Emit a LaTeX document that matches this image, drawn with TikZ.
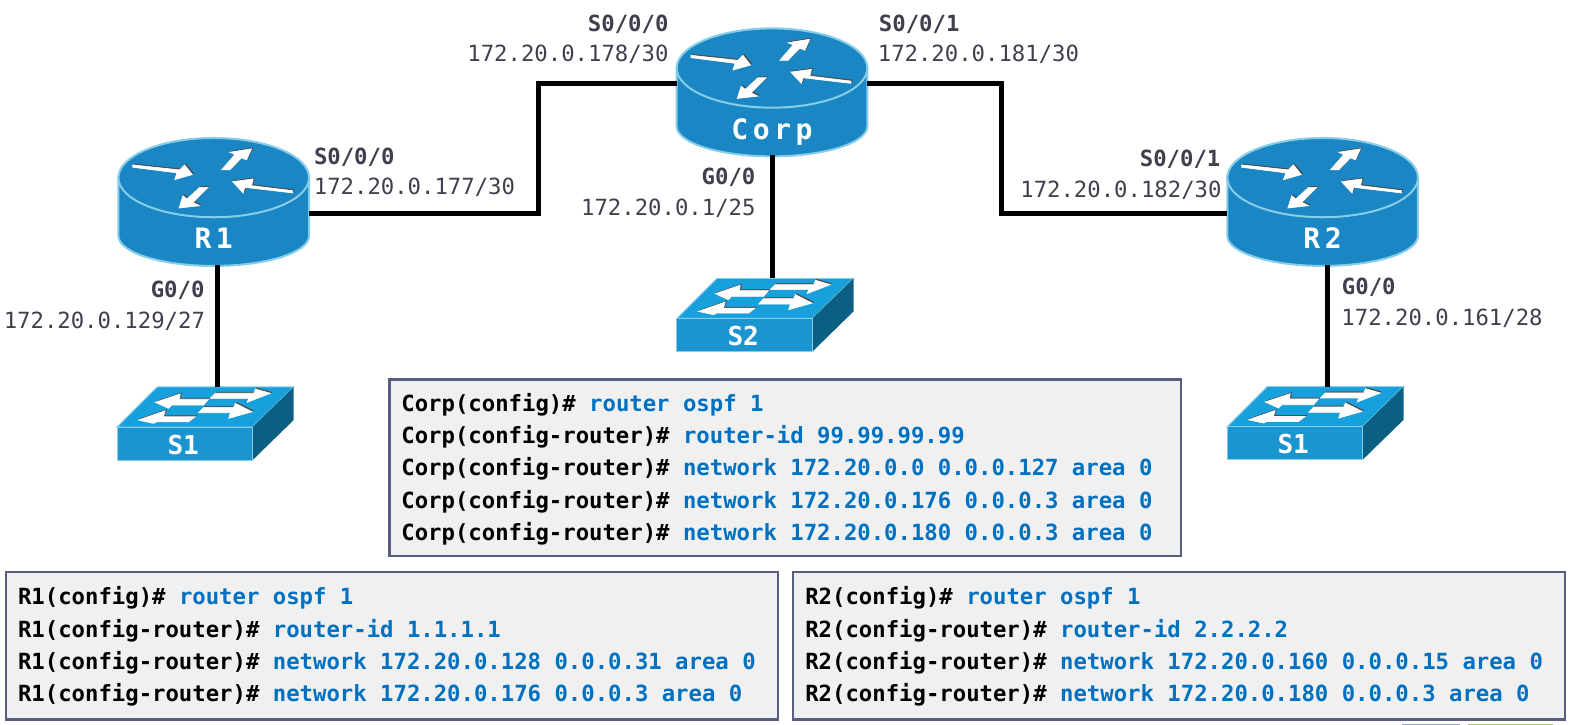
\documentclass[tikz,border=0pt]{standalone}
\usepackage{fontspec}
\setmonofont{DejaVu Sans Mono}
\newfontfamily\devfont[LetterSpace=16]{DejaVu Sans Mono}
\definecolor{routerblue}{HTML}{1A87C4}
\definecolor{routeredge}{HTML}{86CDE8}
\definecolor{switchtop}{HTML}{18A0DC}
\definecolor{switchfront}{HTML}{1B95D0}
\definecolor{switchside}{HTML}{0B5F82}
\definecolor{cmdblue}{HTML}{0070C0}
\definecolor{labelgray}{HTML}{3F3F4E}
\definecolor{boxedge}{HTML}{5A5F80}
\definecolor{boxfill}{HTML}{F0F0F1}
\definecolor{sliverblue}{HTML}{8FA3B5}
\definecolor{slivergreen}{HTML}{AEBF6A}
\newcommand{\cmd}[1]{\textcolor{cmdblue}{#1}}

\tikzset{
    link/.style={line width=2.5pt},
    whitearrow/.style={fill=white,draw=white,line width=0.3pt,preaction={fill=black!70,draw=black!70,line width=0.3pt,transform canvas={shift={(0.6pt,0.5pt)}}}},
    portbold/.style={font=\ttfamily\bfseries\fontsize{11.1}{13}\selectfont,text=labelgray,inner sep=0pt},
    portaddr/.style={font=\ttfamily\fontsize{11.1}{13}\selectfont,text=labelgray,inner sep=0pt},
    cfgbox/.style={draw=boxedge,fill=boxfill,line width=1.2pt,text width=#1,inner xsep=6pt,inner ysep=0pt,
        align=flush left,font=\ttfamily\bfseries\fontsize{11.1}{16}\selectfont},
    router/.pic={
        \fill[routerblue,draw=routeredge,line width=1pt] (-95,0) -- (-95,58)
            arc[start angle=180,end angle=0,x radius=95,y radius=30] -- (95,0) -- cycle;
        \fill[routerblue,draw=routeredge,line width=1pt] (0,0) ellipse [x radius=95,y radius=39.5];
        \filldraw[whitearrow] (-80.7,-12.7) -- (-34,-7.7) -- (-29,-12.7) -- (-21.3,-3) -- (-39,2) -- (-36.7,-4.7) -- (-80.7,-10.3) -- cycle;
        \filldraw[whitearrow] (7.7,-7.7) -- (16,-7.7) -- (27.7,-19.7) -- (32.7,-17.7) -- (37.7,-28.7) -- (16,-25.3) -- (21,-23) -- cycle;
        \filldraw[whitearrow] (78.7,13) -- (37.7,8) -- (39.3,1.3) -- (18.7,4) -- (29.3,15.3) -- (31,9.7) -- (78.7,15.3) -- cycle;
        \filldraw[whitearrow] (-5.7,9.7) -- (-14,9.7) -- (-26.7,21.3) -- (-30.7,18) -- (-34.7,30.3) -- (-14,28) -- (-20.7,24.7) -- cycle;
        \node[anchor=base,text=white,inner sep=0pt,font=\devfont\bfseries\fontsize{14}{16}\selectfont] (-name) at (0,71) {#1};
        \coordinate (-wh) at (-95,15);
        \coordinate (-eh) at (95,15);
        \coordinate (-wl) at (-95,35.5);
        \coordinate (-el) at (95,35.5);
        \coordinate (-s) at (0,87);
    },
    switch/.pic={
        \fill[switchtop,draw=routeredge,line width=0.5pt] (0,40) -- (40,0) -- (176,0) -- (135,40) -- cycle;
        \fill[switchside] (135,40) -- (176,0) -- (176,33) -- (135,73) -- cycle;
        \fill[switchfront,draw=routeredge,line width=0.5pt] (0,40) rectangle (135,73);
        \filldraw[whitearrow] (91.3,12.3) -- (62.3,12.3) -- (63,7) -- (38,15.3) -- (51.3,21.3) -- (54.7,18) -- (86.3,18) -- cycle;
        \filldraw[whitearrow] (98,6.3) -- (136.3,6.3) -- (138,2) -- (153,6.3) -- (129.7,15.3) -- (131.3,11.3) -- (93,11.3) -- cycle;
        \filldraw[whitearrow] (78,29.7) -- (46.3,29.7) -- (48,23.7) -- (21.3,33) -- (36.3,36.3) -- (39.7,34.7) -- (71.3,34.7) -- cycle;
        \filldraw[whitearrow] (86.3,20.3) -- (116.3,20.3) -- (118,16.3) -- (134.7,24.7) -- (111.3,31.3) -- (113,25.7) -- (81.3,25.7) -- cycle;
        \node[anchor=base,text=white,inner sep=0pt,font=\ttfamily\bfseries\fontsize{13}{15}\selectfont] (-name) at (66,67) {#1};
        \coordinate (-n) at (100,0);
    }
}

\begin{document}
\begin{tikzpicture}[x=0.5pt,y=-0.5pt]
\useasboundingbox (0,0) rectangle (1567.5,722.4);

% Routers and switches
\pic (R1) at (213,177) {router=R1};
\pic (Corp) at (769.3,67.8) {router=Corp};
\pic (R2) at (1318,177) {router=R2};
\pic (S1a) at (116.6,385.6) {switch=S1};
\pic (S2) at (674.6,277.3) {switch=S2};
\pic (S1b) at (1222.7,385.3) {switch=S1};

% Serial links
\draw[link] (R1-el) -- ++(229,0) |- (Corp-wh);
\draw[link] (Corp-eh) -- ++(134,0) |- (R2-wl);

% Switch links
\draw[link] (S1a-n) -- (S1a-n |- R1-s);
\draw[link] (Corp-s) -- (Corp-s |- S2-n);
\draw[link] (S1b-n) -- (S1b-n |- R2-s);

% Corp ports
\node[portbold] (corpS0) at (626,24) {S0/0/0};
\node[portaddr] (corpS0ip) at (566,54) {172.20.0.178/30};
\node[portbold] (corpS1) at (916,24) {S0/0/1};
\node[portaddr] (corpS1ip) at (975,54) {172.20.0.181/30};
\node[portbold] (corpG0) at (726,177) {G0/0};
\node[portaddr] (corpG0ip) at (666,208) {172.20.0.1/25};

% R1 ports
\node[portbold] (r1S0) at (353,157) {S0/0/0};
\node[portaddr] (r1S0ip) at (413,187) {172.20.0.177/30};
\node[portbold] (r1G0) at (177,289) {G0/0};
\node[portaddr] (r1G0ip) at (104,320) {172.20.0.129/27};

% R2 ports
\node[portbold] (r2S1) at (1176,159) {S0/0/1};
\node[portaddr] (r2S1ip) at (1117,190) {172.20.0.182/30};
\node[portbold] (r2G0) at (1364,286) {G0/0};
\node[portaddr] (r2G0ip) at (1437,317) {172.20.0.161/28};

% Config boxes
\node[cfgbox=382.5pt,minimum height=88pt] (corpcfg) at (782.5,466) {%
\rule{0pt}{10.6pt}Corp(config)\# \cmd{router ospf 1}\\
Corp(config-router)\# \cmd{router-id 99.99.99.99}\\
Corp(config-router)\# \cmd{network 172.20.0.0 0.0.0.127 area 0}\\
Corp(config-router)\# \cmd{network 172.20.0.176 0.0.0.3 area 0}\\
Corp(config-router)\# \cmd{network 172.20.0.180 0.0.0.3 area 0}};
\node[cfgbox=372.5pt,minimum height=73.5pt] (r1cfg) at (390.5,643.5) {%
\rule{0pt}{9.6pt}R1(config)\# \cmd{router ospf 1}\\
R1(config-router)\# \cmd{router-id 1.1.1.1}\\
R1(config-router)\# \cmd{network 172.20.0.128 0.0.0.31 area 0}\\
R1(config-router)\# \cmd{network 172.20.0.176 0.0.0.3 area 0}};
\node[cfgbox=372.5pt,minimum height=73.5pt] (r2cfg) at (1175,643.5) {%
\rule{0pt}{9.6pt}R2(config)\# \cmd{router ospf 1}\\
R2(config-router)\# \cmd{router-id 2.2.2.2}\\
R2(config-router)\# \cmd{network 172.20.0.160 0.0.0.15 area 0}\\
R2(config-router)\# \cmd{network 172.20.0.180 0.0.0.3 area 0}};

% Slivers at the lower edge
\fill[sliverblue] (1397,721.2) rectangle (1455,722.4);
\fill[slivergreen] (1463,721.2) rectangle (1548,722.4);

\end{tikzpicture}
\end{document}
